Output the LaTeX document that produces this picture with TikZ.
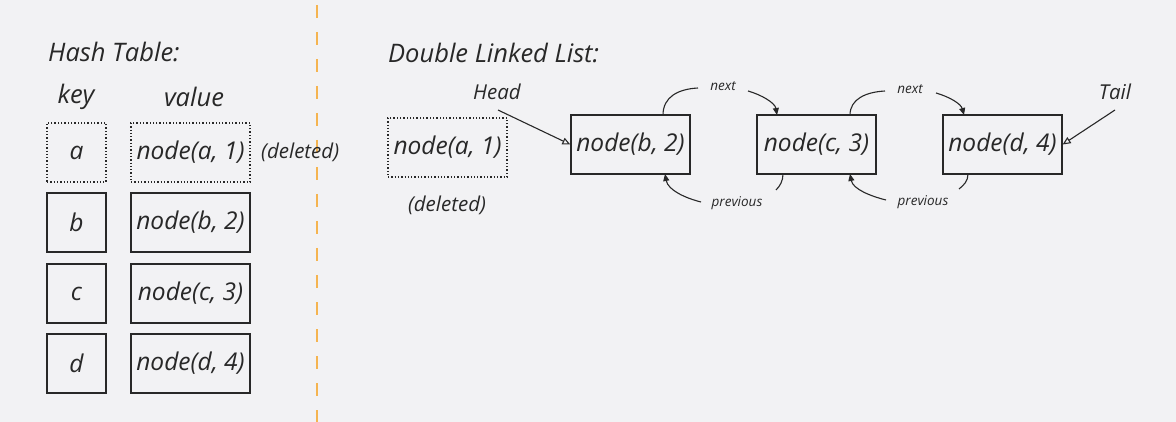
\documentclass[tikz,border=0pt]{standalone}
\usepackage{fontspec}
\setmainfont{Open Sans}
\usetikzlibrary{arrows.meta}
\definecolor{bg}{RGB}{242,242,244}
\definecolor{ink}{RGB}{40,40,40}
\definecolor{sep}{RGB}{245,180,80}
\tikzset{
  box/.style={draw=ink, line width=1.3pt, inner sep=0pt, font=\itshape\fontsize{24.5}{24.5}\selectfont, text=ink},
  keybox/.style={box, minimum width=59pt, minimum height=59pt},
  valbox/.style={box, minimum width=119pt, minimum height=59pt},
  gone/.style={dotted, line width=1.3pt},
  title/.style={font=\itshape\fontsize{25.5}{25.5}\selectfont, text=ink, inner sep=0pt},
  lbl/.style={font=\itshape\fontsize{20.5}{20.5}\selectfont, text=ink, inner sep=0pt},
  small/.style={font=\itshape\fontsize{13.5}{13.5}\selectfont, text=ink, inner sep=0pt},
  link/.style={draw=ink, line width=1.1pt, -{Triangle[length=7pt,width=6pt]}},
  plain/.style={draw=ink, line width=1.1pt},
  pointer/.style={draw=ink, line width=1.1pt, -{Triangle[open,length=8pt,width=7pt]}}
}
\begin{document}
\begin{tikzpicture}[x=1pt,y=-1pt]
\fill[bg] (0,0) rectangle (1176,422);
\useasboundingbox (0,0) rectangle (1176,422);
\coordinate (sepTop) at (317,0);
\coordinate (sepBot) at (317,422);
\draw[sep, line width=1.2pt, dash pattern=on 13pt off 14pt, dash phase=-5pt] (sepTop) -- (sepBot);

% Hash table
\node[title, anchor=west] (ht) at (48,52) {Hash Table:};
\node[title] (key) at (76,97) {key};
\node[title] (val) at (194,97) {value};
\node[keybox, gone] (ka) at (76.5,152.5) {a};
\node[valbox, gone] (va) at (190.5,152.5) {node(a, 1)};
\node[lbl, anchor=west] (vadel) at (261,152) {(deleted)};
\node[keybox] (kb) at (76.5,222.5) {b};
\node[valbox] (vb) at (190.5,222.5) {node(b, 2)};
\node[keybox] (kc) at (76.5,293.5) {c};
\node[valbox] (vc) at (190.5,293.5) {node(c, 3)};
\node[keybox] (kd) at (76.5,363.5) {d};
\node[valbox] (vd) at (190.5,363.5) {node(d, 4)};

% Double linked list
\node[title, anchor=west] (dll) at (388,53) {Double Linked List:};
\node[valbox, gone] (la) at (447.5,147.5) {node(a, 1)};
\node[lbl] (ladel) at (447,205) {(deleted)};
\node[valbox] (lb) at (630.5,144.5) {node(b, 2)};
\node[valbox] (lc) at (816.5,144.5) {node(c, 3)};
\node[valbox] (ld) at (1002.5,144.5) {node(d, 4)};

\node[lbl] (head) at (497,92) {Head};
\node[lbl] (tail) at (1115,92) {Tail};
\coordinate (headS) at (498,110);
\coordinate (tailS) at (1115,110);
\draw[pointer] (headS) -- (lb.west);
\draw[pointer] (tailS) -- (ld.east);

\node[small] (n1) at (723,86) {next};
\node[small] (n2) at (910,89) {next};
\node[small] (p1) at (737,203) {previous};
\node[small] (p2) at (923,202) {previous};

% next links
\coordinate (bT) at (663,115);
\coordinate (cT) at (850,115);
\coordinate (cTin) at (777,115);
\coordinate (dTin) at (964,115);
\coordinate (n1L) at (698,88);
\coordinate (n1R) at (748,91);
\coordinate (n2L) at (885,91);
\coordinate (n2R) at (936,93);
\draw[plain] (bT) .. controls (663,97) and (678,89) .. (n1L);
\draw[link] (n1R) .. controls (762,95) and (775,103) .. (cTin);
\draw[plain] (cT) .. controls (850,99) and (866,92) .. (n2L);
\draw[link] (n2R) .. controls (950,97) and (961,104) .. (dTin);

% previous links
\coordinate (cB) at (783,174);
\coordinate (dB) at (968,174);
\coordinate (bBin) at (665,174);
\coordinate (cBin) at (850,174);
\coordinate (p1R) at (776,190);
\coordinate (p2R) at (959,189);
\coordinate (p1L) at (701,202);
\coordinate (p2L) at (886,200);
\draw[plain] (cB) .. controls (783,181) and (780,186) .. (p1R);
\draw[plain] (dB) .. controls (968,181) and (964,185) .. (p2R);
\draw[link] (p1L) .. controls (685,198) and (668,190) .. (bBin);
\draw[link] (p2L) .. controls (870,196) and (853,189) .. (cBin);
\end{tikzpicture}
\end{document}
